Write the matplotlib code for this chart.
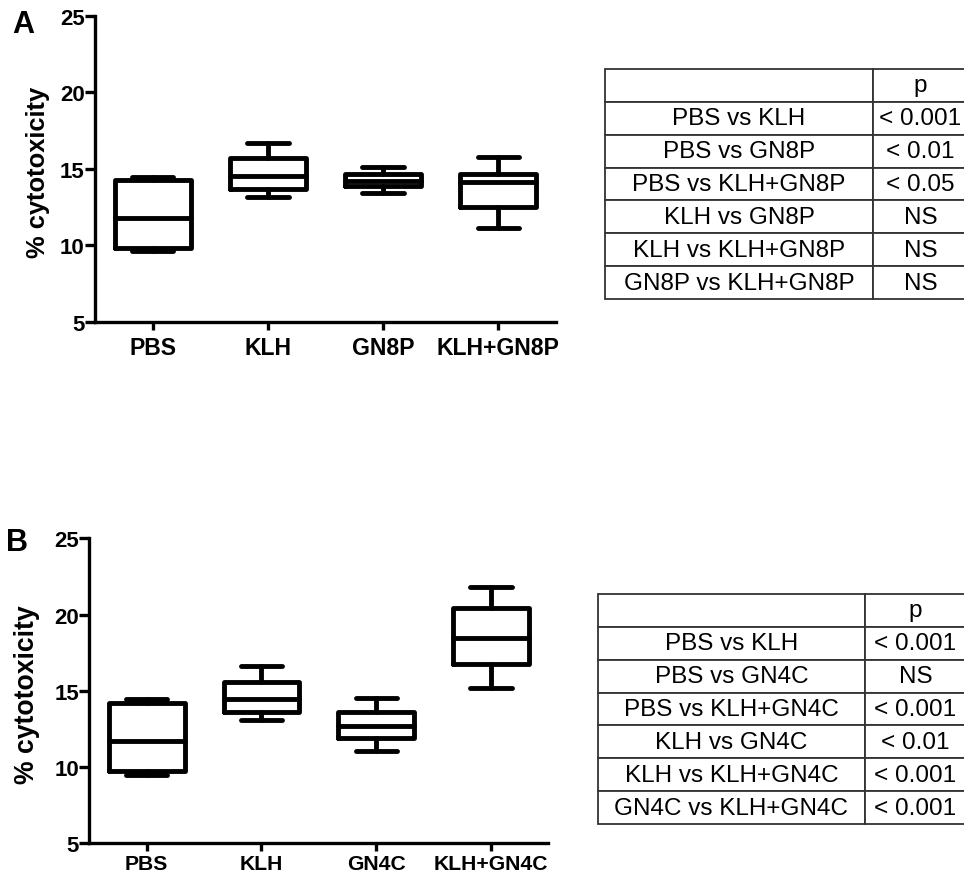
import matplotlib
matplotlib.use("Agg")
import matplotlib.pyplot as plt

plt.rcParams['font.family'] = ['Liberation Sans', 'DejaVu Sans']

# ---- Panel A data: box-plot summaries (% cytotoxicity) ----
groups_a = ["PBS", "KLH", "GN8P", "KLH+GN8P"]
whislo_a = [9.6, 13.15, 13.4, 11.1]
q1_a = [9.8, 13.65, 13.87, 12.5]
med_a = [11.8, 14.5, 14.23, 14.13]
q3_a = [14.3, 15.7, 14.67, 14.65]
whishi_a = [14.45, 16.7, 15.15, 15.76]

comparisons_a = ["PBS vs KLH", "PBS vs GN8P", "PBS vs KLH+GN8P",
                 "KLH vs GN8P", "KLH vs KLH+GN8P", "GN8P vs KLH+GN8P"]
pvalues_a = ["< 0.001", "< 0.01", "< 0.05", "NS", "NS", "NS"]

# ---- Panel B data ----
groups_b = ["PBS", "KLH", "GN4C", "KLH+GN4C"]
whislo_b = [9.5, 13.1, 11.05, 15.16]
q1_b = [9.75, 13.6, 11.9, 16.76]
med_b = [11.7, 14.46, 12.7, 18.46]
q3_b = [14.2, 15.6, 13.63, 20.41]
whishi_b = [14.45, 16.65, 14.5, 21.79]

comparisons_b = ["PBS vs KLH", "PBS vs GN4C", "PBS vs KLH+GN4C",
                 "KLH vs GN4C", "KLH vs KLH+GN4C", "GN4C vs KLH+GN4C"]
pvalues_b = ["< 0.001", "NS", "< 0.001", "< 0.01", "< 0.001", "< 0.001"]

y_ticks = [5, 10, 15, 20, 25]

W, H = 964, 878
fig = plt.figure(figsize=(W / 100, H / 100), dpi=100)
fig.patch.set_facecolor("white")


def px_axes(left, top, right, bottom):
    return fig.add_axes([left / W, 1 - bottom / H, (right - left) / W, (bottom - top) / H])


def box_panel(ax, groups, lo, q1, med, q3, hi, label_x, label_size,
              xtick_size, xtick_pad):
    stats = [dict(whislo=a, q1=b, med=c, q3=d, whishi=e, label=g)
             for g, a, b, c, d, e in zip(groups, lo, q1, med, q3, hi)]
    line = dict(color="black", linewidth=3.5, solid_capstyle="round",
                solid_joinstyle="round")
    ax.bxp(stats, positions=range(1, len(groups) + 1), widths=0.66,
           capwidths=0.36, showfliers=False,
           boxprops=line, whiskerprops=line, capprops=line, medianprops=line)
    ax.set_xlim(0.5, len(groups) + 0.5)
    ax.set_ylim(5, 25)
    ax.set_yticks(y_ticks)
    ax.set_yticklabels([str(t) for t in y_ticks], fontweight="bold", fontsize=16)
    ax.set_xticklabels(groups, fontweight="bold", fontsize=xtick_size)
    for side in ("top", "right"):
        ax.spines[side].set_visible(False)
    for side in ("left", "bottom"):
        ax.spines[side].set_linewidth(2.4)
    ax.tick_params(axis="y", direction="out", length=7, width=2.4, pad=0.5)
    ax.tick_params(axis="x", direction="out", length=6, width=2.4, pad=xtick_pad)
    ax.set_ylabel("% cytotoxicity", fontweight="bold", fontsize=label_size)
    ax.yaxis.set_label_coords(label_x, 0.49)


def p_table(ax, comparisons, pvalues, first_frac):
    cells = [["", "p"]] + [[c, p] for c, p in zip(comparisons, pvalues)]
    tab = ax.table(cellText=cells, cellLoc="center",
                   colWidths=[first_frac, 1 - first_frac], bbox=[0, 0, 1, 1])
    tab.auto_set_font_size(False)
    tab.set_fontsize(17.5)
    for cell in tab.get_celld().values():
        cell.set_edgecolor("#333333")
        cell.set_linewidth(1.3)
    ax.axis("off")


# Panel A
ax_a = px_axes(95, 17, 556, 322.7)
box_panel(ax_a, groups_a, whislo_a, q1_a, med_a, q3_a, whishi_a,
          -0.098, 18.4, 16.6, 4)
tab_a = px_axes(605, 70, 968, 300)
p_table(tab_a, comparisons_a, pvalues_a, (873 - 605) / (968 - 605))

# Panel B
ax_b = px_axes(89.3, 539.3, 548.3, 844.3)
box_panel(ax_b, groups_b, whislo_b, q1_b, med_b, q3_b, whishi_b,
          -0.107, 19.2, 15.2, 1.5)
tab_b = px_axes(598, 595, 966, 825)
p_table(tab_b, comparisons_b, pvalues_b, (865 - 598) / (966 - 598))

fig.text(12 / W, 1 - 10 / H, "A", fontsize=22, fontweight="bold", ha="left", va="top")
fig.text(6 / W, 1 - 528 / H, "B", fontsize=22, fontweight="bold", ha="left", va="top")

fig.savefig("out.png", dpi=100, facecolor="white")
